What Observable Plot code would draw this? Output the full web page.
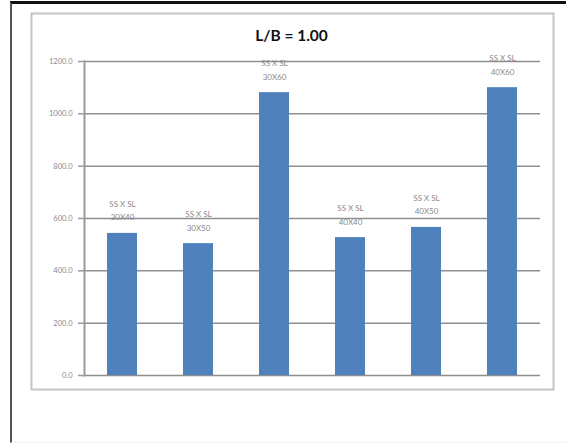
<!DOCTYPE html>
<html>
<head>
<meta charset="utf-8">
<script src="https://cdn.jsdelivr.net/npm/d3@7"></script>
<script src="https://cdn.jsdelivr.net/npm/@observablehq/plot@0.6"></script>
<style>
  html, body { margin: 0; padding: 0; background: #fff; }
  #wrap { position: relative; width: 566px; height: 446px; overflow: hidden; }
  #border {
    position: absolute; left: 10px; top: 1px; right: -4px; bottom: 3px;
    border-top: 3px solid #111; border-left: 2px solid #555; border-bottom: 1px dotted #e4e4e4;
    pointer-events: none;
  }
</style>
</head>
<body>
<div id="wrap"><div id="border"></div></div>
<script>
// Pile configurations (spacing x length) and their values
const configs = ["30X40", "30X50", "30X60", "40X40", "40X50", "40X60"];
const values = [543, 504, 1081, 527, 566, 1100];
const labelPrefix = "SS X SL";
const yTicks = [0, 200, 400, 600, 800, 1000, 1200];
const title = "L/B = 1.00";

const data = configs.map((c, i) => ({config: c, value: values[i], label: `${labelPrefix}\n${c}`}));

const chart = Plot.plot({
  width: 566,
  height: 446,
  marginLeft: 84,
  marginRight: 26,
  marginTop: 61,
  marginBottom: 71,
  style: {fontFamily: "Lato, 'Liberation Sans', sans-serif", background: "transparent"},
  x: {domain: configs, paddingInner: 0.605, paddingOuter: 0.3, axis: null},
  y: {domain: [0, 1200], axis: null},
  marks: [
    // inner chart area border
    Plot.frame({stroke: "#c4c4c4", strokeWidth: 2, insetLeft: -53, insetRight: -13, insetTop: -48, insetBottom: -14}),
    Plot.gridY(yTicks, {stroke: "#8f8f8f", strokeOpacity: 1, strokeWidth: 1.5}),
    Plot.frame({anchor: "left", stroke: "#9a9a9a", strokeWidth: 2}),
    Plot.axisY(yTicks, {
      tickFormat: d => d.toFixed(1),
      tickSize: 6, tickPadding: 6, label: null,
      stroke: "#9a9a9a", strokeWidth: 1.5,
      fontSize: 7.5, fill: "#8a8a8a"
    }),
    Plot.barY(data, {x: "config", y: "value", fill: "#4f81bd"}),
    Plot.text(data, {
      x: "config", y: "value", text: "label",
      lineAnchor: "bottom", dy: -13, lineHeight: 1.7,
      fontSize: 8, fill: "#8a8a8a"
    }),
    Plot.text([title], {
      frameAnchor: "top", dx: -21, dy: -21, lineAnchor: "bottom",
      fontSize: 15.5, fontWeight: "bold", fill: "#111"
    })
  ]
});
document.getElementById("wrap").prepend(chart);
</script>
</body>
</html>
